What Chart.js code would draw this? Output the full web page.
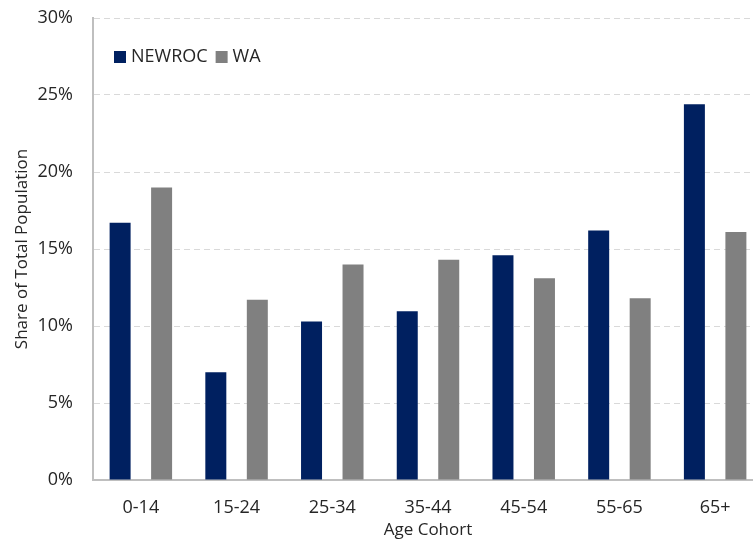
<!DOCTYPE html>
<html>
<head>
<meta charset="utf-8">
<script src="https://cdn.jsdelivr.net/npm/chart.js@4.4.1/dist/chart.umd.min.js"></script>
<style>
    html, body { margin: 0; padding: 0; background: #fff; overflow: hidden; }
    #wrap { width: 753px; height: 545px; overflow: hidden; }
    #inner { width: 764px; height: 545px; }
</style>
</head>
<body>
<div id="wrap"><div id="inner"><canvas id="populationChart" width="764" height="545"></canvas></div></div>
<script>
const ageCohorts = ['0-14', '15-24', '25-34', '35-44', '45-54', '55-65', '65+'];
const newrocShare = [16.7, 7.0, 10.3, 10.95, 14.6, 16.2, 24.4];
const waShare = [19.0, 11.7, 14.0, 14.3, 13.1, 11.8, 16.1];
const yTicks = [0, 5, 10, 15, 20, 25, 30];

const fontFamily = '"Open Sans", "DejaVu Sans", sans-serif';
const textColor = '#262626';

// legend sits inside the plot, top-left, with items on one row
const insideLegend = {
    id: 'insideLegend',
    afterDraw(chart) {
        const ctx = chart.ctx;
        const area = chart.chartArea;
        let x = area.left + 21;
        const y = area.top + 39;
        ctx.save();
        ctx.font = '18px ' + fontFamily;
        ctx.textBaseline = 'middle';
        chart.data.datasets.forEach(ds => {
            ctx.fillStyle = ds.backgroundColor;
            ctx.fillRect(x, y - 6, 12, 12);
            x += 17;
            ctx.fillStyle = textColor;
            ctx.fillText(ds.label, x, y);
            x += ctx.measureText(ds.label).width + 8;
        });
        ctx.restore();
    }
};

new Chart(document.getElementById('populationChart'), {
    type: 'bar',
    data: {
        labels: ageCohorts,
        datasets: [
            {
                label: 'NEWROC',
                data: newrocShare,
                backgroundColor: '#002060',
                categoryPercentage: 0.867,
                barPercentage: 0.506
            },
            {
                label: 'WA',
                data: waShare,
                backgroundColor: '#808080',
                categoryPercentage: 0.867,
                barPercentage: 0.506
            }
        ]
    },
    options: {
        responsive: false,
        animation: false,
        devicePixelRatio: 1,
        layout: { padding: { left: 8, top: 18, right: 1, bottom: 0 } },
        plugins: {
            legend: { display: false },
            tooltip: { enabled: false }
        },
        scales: {
            x: {
                grid: { display: false, drawTicks: false },
                border: { display: true, color: '#bfbfbf', width: 2 },
                ticks: {
                    color: textColor,
                    padding: 17,
                    font: { family: fontFamily, size: 18 }
                },
                title: {
                    display: true,
                    text: 'Age Cohort',
                    color: textColor,
                    padding: { top: 0, bottom: 5 },
                    font: { family: fontFamily, size: 17 }
                },
                afterFit: scale => {
                    scale.height = 65;
                    scale.paddingLeft = 0;
                    scale.paddingRight = 0;
                }
            },
            y: {
                min: 0,
                max: 30,
                afterBuildTicks: scale => {
                    scale.ticks = yTicks.map(v => ({ value: v }));
                },
                grid: {
                    color: '#d9d9d9',
                    lineWidth: 1,
                    drawTicks: false
                },
                border: { display: true, color: '#bfbfbf', width: 2, dash: [6, 4] },
                ticks: {
                    color: textColor,
                    padding: 20,
                    font: { family: fontFamily, size: 18 },
                    callback: v => v + '%'
                },
                title: {
                    display: true,
                    text: 'Share of Total Population',
                    color: textColor,
                    padding: { top: 4, bottom: 4 },
                    font: { family: fontFamily, size: 17 }
                },
                afterFit: scale => {
                    scale.width = 85;
                    scale.paddingTop = 0;
                    scale.paddingBottom = 0;
                }
            }
        }
    },
    plugins: [insideLegend]
});
</script>
</body>
</html>
